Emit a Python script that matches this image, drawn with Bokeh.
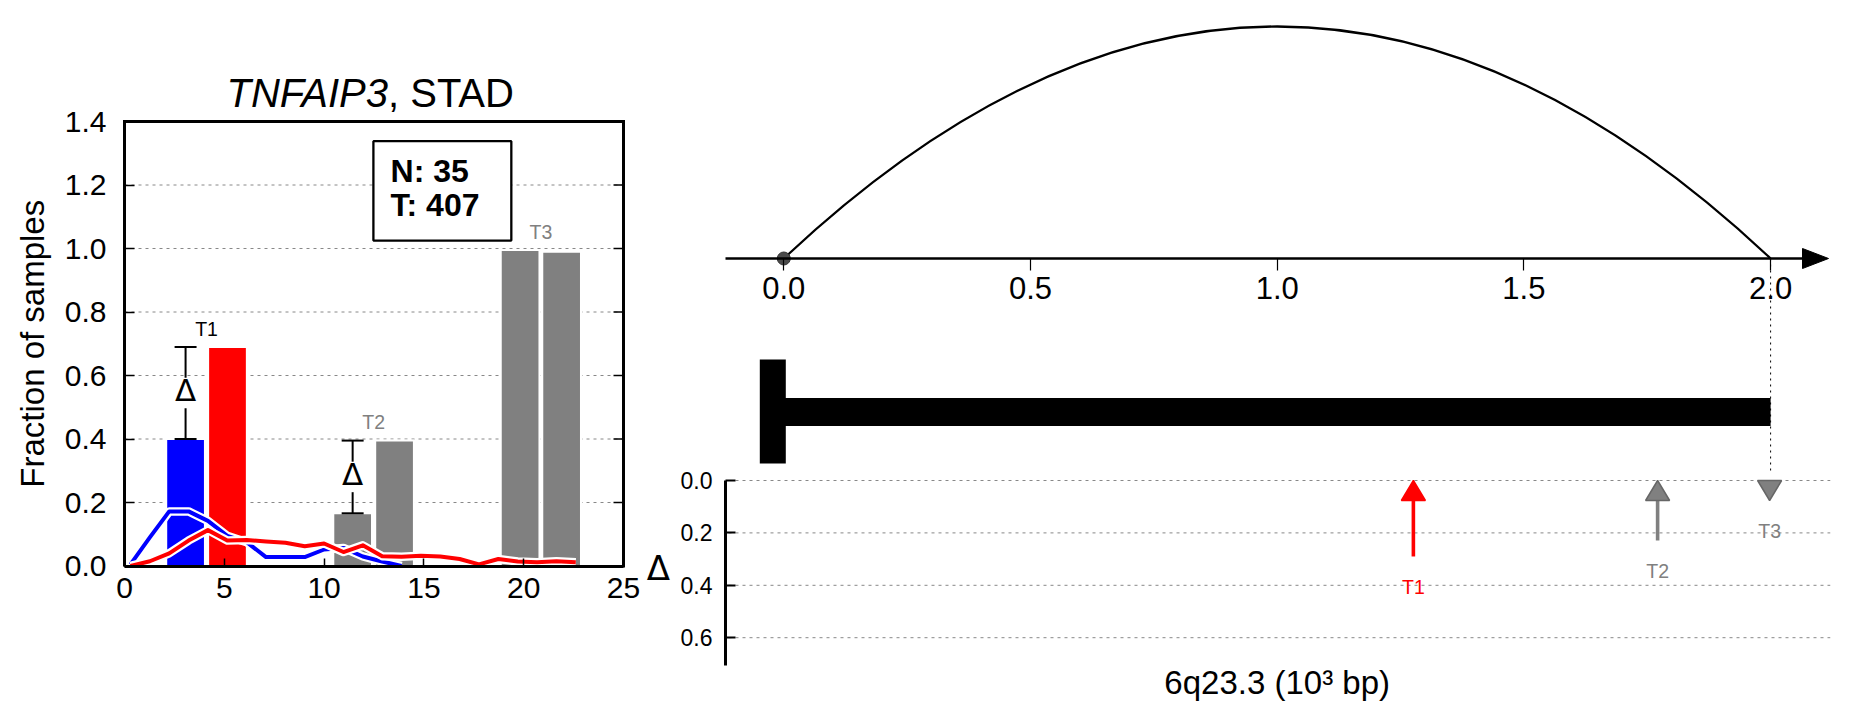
import math
from bokeh.plotting import figure
from bokeh.models import (Range1d, LinearAxis, FixedTicker, PrintfTickFormatter, ColumnDataSource)
from bokeh.layouts import row
from bokeh.embed import file_html
from bokeh.resources import INLINE
from bokeh.core.properties import value

# ---------------- data ----------------
gene = "TNFAIP3"
cancer = "STAD"
n_normal = 35
n_tumor = 407
targets = ["T1", "T2", "T3"]
normal_x = [3.06, 11.43, 19.82]
tumor_x = [5.16, 13.53, 21.90]
normal_frac = [0.40, 0.166, 0.995]
tumor_frac = [0.69, 0.395, 0.99]
normal_colors = ["#0000ff", "#808080", "#808080"]
tumor_colors = ["#ff0000", "#808080", "#808080"]
left_label_colors = ["black", "#808080", "#808080"]
show_delta = [True, True, False]

dens_x = [0.3, 1.27, 2.24, 3.21, 4.18, 5.15, 6.12, 7.09, 8.06, 9.03, 10.0, 10.97,
          11.94, 12.91, 13.88, 14.85, 15.82, 16.79, 17.76, 18.73, 19.7, 20.67, 21.64, 22.61]
dens_normal = [0.005, 0.09, 0.172, 0.172, 0.142, 0.095, 0.075, 0.028, 0.028, 0.028,
               0.052, 0.057, 0.03, 0.014, 0.0]
dens_tumor = [0.0, 0.015, 0.04, 0.08, 0.113, 0.08, 0.082, 0.077, 0.073, 0.062, 0.071,
              0.044, 0.065, 0.031, 0.029, 0.032, 0.030, 0.022, 0.005, 0.022, 0.014,
              0.012, 0.015, 0.012]

x_ticks_left = [0, 5, 10, 15, 20, 25]
y_ticks_left = [0.0, 0.2, 0.4, 0.6, 0.8, 1.0, 1.2, 1.4]
y_label_left = "Fraction of samples"

gene_start_kb = 0.0
gene_end_kb = 2.0
link_start = [0.0]
link_end = [2.0]
target_pos_kb = [1.276, 1.771, 1.998]
arrow_colors = ["#ff0000", "#808080", "#808080"]
kb_ticks = [0.0, 0.5, 1.0, 1.5, 2.0]
delta_ticks = [0.0, 0.2, 0.4, 0.6]
region_label = "6q23.3 (10\u00b3 bp)"

FONT = "Liberation Sans"
H = 716    # figure height (px)
LW = 642   # left figure width (px)

# ---------------- left panel ----------------
L_X0 = 124.0        # page x of x = 0
L_W = 499.0         # width of the data box
L_Y0 = 565.5        # page y of fraction 0
L_PX = 317.5        # px per unit fraction
xmin, xmax = x_ticks_left[0], x_ticks_left[-1]
ymin, ymax = y_ticks_left[0], y_ticks_left[-1]
px_x = L_W / (xmax - xmin)

p1 = figure(frame_width=LW, frame_height=H,
            x_range=Range1d(xmin - L_X0 / px_x, xmin + (LW - L_X0) / px_x),
            y_range=Range1d(-(H - L_Y0) / L_PX, L_Y0 / L_PX),
            x_axis_type=None, y_axis_type=None,
            min_border_left=0, min_border_right=0, min_border_top=0, min_border_bottom=0,
            output_backend="svg", toolbar_location=None)
p1.outline_line_color = None
p1.background_fill_color = "white"
p1.border_fill_color = "white"

# y axis (left spine)
ya = LinearAxis(ticker=FixedTicker(ticks=y_ticks_left), formatter=PrintfTickFormatter(format="%.1f"),
                bounds=(ymin, ymax), fixed_location=xmin)
ya.axis_line_width = 3
ya.major_tick_in = 10
ya.major_tick_out = 0
ya.major_tick_line_width = 1.5
ya.minor_tick_line_color = None
ya.major_label_text_font = FONT
ya.major_label_text_font_size = "30px"
ya.major_label_text_color = "black"
ya.major_label_standoff = 18
p1.add_layout(ya, "left")

# x axis (bottom spine)
xa = LinearAxis(ticker=FixedTicker(ticks=x_ticks_left), bounds=(xmin, xmax), fixed_location=ymin)
xa.axis_line_width = 3
xa.major_tick_in = 8
xa.major_tick_out = 0
xa.major_tick_line_width = 1.5
xa.minor_tick_line_color = None
xa.major_label_text_font = FONT
xa.major_label_text_font_size = "30px"
xa.major_label_text_color = "black"
xa.major_label_standoff = 12
p1.add_layout(xa, "below")

# y label
p1.text(x=[xmin - (L_X0 - 32) / px_x], y=[(ymin + ymax) / 2], text=[y_label_left],
        angle=math.pi / 2, text_font=value(FONT), text_font_size="33px", text_align="center",
        text_baseline="middle", text_color="black")

# horizontal grid lines inside the data box
inner = y_ticks_left[1:-1]
p1.segment(x0=[xmin] * len(inner), y0=inner, x1=[xmax] * len(inner), y1=inner,
           line_color="#888888", line_width=1, line_dash="3 4")

bar_src = ColumnDataSource(dict(x=normal_x + tumor_x, top=normal_frac + tumor_frac,
                                color=normal_colors + tumor_colors))
p1.vbar(x="x", top="top", bottom=0, width=1.94, fill_color="color", line_color="white",
        line_width=2, source=bar_src)

nx = dens_x[:len(dens_normal)]
p1.line(nx, dens_normal, line_color="white", line_width=8.5, line_join="round")
p1.line(nx, dens_normal, line_color="#0000ff", line_width=4, line_join="round")
p1.line(dens_x, dens_tumor, line_color="white", line_width=8.5, line_join="round")
p1.line(dens_x, dens_tumor, line_color="#ff0000", line_width=4, line_join="round")

# top and right spines + mirrored ticks on the right
p1.segment(x0=[xmin, xmax], y0=[ymax, ymin], x1=[xmax, xmax], y1=[ymax, ymax],
           line_color="black", line_width=3, line_cap="square")
p1.segment(x0=[xmax - 10 / px_x] * len(inner), y0=inner, x1=[xmax] * len(inner), y1=inner,
           line_color="black", line_width=1.5)

GAP = 0.048
CAP = 0.55
ex, lo0, lo1, hi0, hi1, dmid = [], [], [], [], [], []
for i in range(len(targets)):
    if show_delta[i]:
        lo, hi = normal_frac[i], tumor_frac[i]
        mid = (lo + hi) / 2
        ex.append(normal_x[i]); lo0.append(lo); lo1.append(mid - GAP)
        hi0.append(mid + GAP); hi1.append(hi); dmid.append(mid)
p1.segment(x0=ex, y0=lo0, x1=ex, y1=lo1, line_color="black", line_width=2)
p1.segment(x0=ex, y0=hi0, x1=ex, y1=hi1, line_color="black", line_width=2)
p1.segment(x0=[x - CAP for x in ex], y0=lo0, x1=[x + CAP for x in ex], y1=lo0,
           line_color="black", line_width=2)
p1.segment(x0=[x - CAP for x in ex], y0=hi1, x1=[x + CAP for x in ex], y1=hi1,
           line_color="black", line_width=2)
p1.text(x=ex, y=[m + 0.008 for m in dmid], text=["\u0394"] * len(ex), text_font=value("DejaVu Sans"),
        text_font_size="31px", text_align="center", text_baseline="middle", text_color="black")

lab_x = [(a + b) / 2 for a, b in zip(normal_x, tumor_x)]
lab_y = [max(a, b) + 0.057 for a, b in zip(normal_frac, tumor_frac)]
p1.text(x=lab_x, y=lab_y, text=targets, text_color=left_label_colors, text_font=value(FONT),
        text_font_size="19.5px", text_align="center", text_baseline="middle")

# N / T box
p1.quad(left=[12.47], right=[19.38], bottom=[1.025], top=[1.338], fill_color="white",
        line_color="black", line_width=2.3)
p1.text(x=[13.33, 13.33], y=[1.244, 1.136], text=[f"N: {n_normal}", f"T: {n_tumor}"],
        text_font=value(FONT), text_font_size="32px", text_font_style="bold",
        text_align="left", text_baseline="middle", text_color="black")

# title: italic gene name + normal cancer code
title_y = (L_Y0 - 92) / L_PX
p1.text(x=[13.2], y=[title_y], text=[gene], text_font=value(FONT), text_font_size="40px",
        text_font_style="italic", text_align="right", text_baseline="middle",
        text_color="black")
p1.text(x=[13.2], y=[title_y], text=[f", {cancer}"], text_font=value(FONT),
        text_font_size="40px", text_font_style="normal", text_align="left",
        text_baseline="middle", text_color="black")

# ---------------- right panel ----------------
PX_PER_KB = 493.4
KB0_X = 783.3       # page x of 0 kb
AX_Y = 258          # page y of kb axis
D0_Y = 480          # page y of delta = 0
PX_PER_D = 262.0
R_X0, R_X1 = LW, 1830
R_W = R_X1 - R_X0
x_left = (R_X0 - KB0_X) / PX_PER_KB
x_right = (R_X1 - KB0_X) / PX_PER_KB
d_axis_x = (725 - KB0_X) / PX_PER_KB

p2 = figure(frame_width=R_W, frame_height=H, x_range=Range1d(x_left, x_right),
            y_range=Range1d(AX_Y - H, AX_Y),
            x_axis_type=None, y_axis_type=None,
            min_border_left=0, min_border_right=1849 - R_X1, min_border_top=0,
            min_border_bottom=0, output_backend="svg", toolbar_location=None)
p2.outline_line_color = None
p2.background_fill_color = "white"
p2.border_fill_color = "white"
p2.extra_y_ranges = {"delta": Range1d(start=(H - D0_Y) / PX_PER_D, end=(0 - D0_Y) / PX_PER_D)}

# kb axis at y = 0
tip = x_right - 2 / PX_PER_KB
base = tip - 26 / PX_PER_KB
kb_axis = LinearAxis(ticker=FixedTicker(ticks=kb_ticks), formatter=PrintfTickFormatter(format="%.1f"),
                     fixed_location=0, bounds=(d_axis_x, base + 0.002))
kb_axis.axis_line_width = 2.5
kb_axis.major_tick_out = 12
kb_axis.major_tick_in = 0
kb_axis.major_tick_line_width = 1.2
kb_axis.minor_tick_line_color = None
kb_axis.major_label_text_font = FONT
kb_axis.major_label_text_font_size = "31px"
kb_axis.major_label_standoff = 6
kb_axis.major_label_text_color = "black"
p2.add_layout(kb_axis, "below")
p2.patch(x=[base, base, tip], y=[10, -10, 0], fill_color="black", line_color="black")

# delta axis
d_axis = LinearAxis(y_range_name="delta", ticker=FixedTicker(ticks=delta_ticks),
                    formatter=PrintfTickFormatter(format="%.1f"), bounds=(0, 0.706),
                    fixed_location=d_axis_x)
d_axis.axis_line_width = 3
d_axis.major_tick_in = 10
d_axis.major_tick_out = 0
d_axis.major_tick_line_width = 2
d_axis.minor_tick_line_color = None
d_axis.major_label_text_font = FONT
d_axis.major_label_text_font_size = "23px"
d_axis.major_label_standoff = 13
d_axis.major_label_text_color = "black"
p2.add_layout(d_axis, "left")

# delta grid lines (to the right of the delta axis)
p2.segment(x0=[d_axis_x + 3 / PX_PER_KB] * len(delta_ticks), y0=delta_ticks,
           x1=[x_right] * len(delta_ticks), y1=delta_ticks, line_color="#888888",
           line_width=1, line_dash="3 4", y_range_name="delta")

p2.text(x=[(658 - KB0_X) / PX_PER_KB], y=[(567.5 - D0_Y) / PX_PER_D], text=["\u0394"],
        text_font=value("DejaVu Sans"), text_font_size="34px", text_align="center",
        text_baseline="middle", text_color="black", y_range_name="delta")

# link arc
peak_px = AX_Y - 26
p2.quadratic(x0=link_start, y0=[0], x1=link_end, y1=[0],
             cx=[(a + b) / 2 for a, b in zip(link_start, link_end)], cy=[2 * peak_px],
             line_color="black", line_width=2.2)
p2.scatter(x=link_start, y=[0], size=13, fill_color="#4a4a4a", line_color="#333333")

# gene model
bar_c = AX_Y - 411.5
p2.quad(left=[gene_start_kb], right=[gene_end_kb], bottom=[bar_c - 14], top=[bar_c + 14],
        fill_color="black", line_color=None)
p2.quad(left=[gene_start_kb - 24 / PX_PER_KB], right=[gene_start_kb + 2 / PX_PER_KB],
        bottom=[AX_Y - 463], top=[AX_Y - 359], fill_color="black", line_color=None)
p2.segment(x0=[gene_end_kb], y0=[0], x1=[gene_end_kb], y1=[AX_Y - (D0_Y - 8)],
           line_color="black", line_width=1, line_dash="2 4")

# delta arrows
HEAD_LEN = 20 / PX_PER_D
HEAD_HW = 12 / PX_PER_KB
deltas = [t - n for t, n in zip(tumor_frac, normal_frac)]
sx, sy0, sy1, scol = [], [], [], []
hx, hy, hfill, hline = [], [], [], []
for pos, d, c in zip(target_pos_kb, deltas, arrow_colors):
    edge = c if c == "#ff0000" else "#666666"
    if d > 0:
        sx.append(pos); sy0.append(d); sy1.append(HEAD_LEN); scol.append(c)
        hx.append([pos - HEAD_HW, pos + HEAD_HW, pos]); hy.append([HEAD_LEN, HEAD_LEN, 0])
    else:
        hx.append([pos - HEAD_HW, pos + HEAD_HW, pos]); hy.append([0, 0, HEAD_LEN])
    hfill.append(c); hline.append(edge)
p2.segment(x0=sx, y0=sy0, x1=sx, y1=sy1, line_color=scol, line_width=3.6, y_range_name="delta")
p2.patches(xs=hx, ys=hy, fill_color=hfill, line_color=hline, line_width=1.5, y_range_name="delta")
p2.text(x=target_pos_kb, y=[max(abs(d), HEAD_LEN) + 0.115 for d in deltas], text=targets,
        text_color=arrow_colors, text_font=value(FONT), text_font_size="19.5px",
        text_align="center", text_baseline="middle", y_range_name="delta")

p2.text(x=[(gene_start_kb + gene_end_kb) / 2], y=[(682 - D0_Y) / PX_PER_D], text=[region_label],
        text_font=value(FONT), text_font_size="33px", text_align="center",
        text_baseline="middle", text_color="black", y_range_name="delta")

layout = row(p1, p2)
open("out.html", "w").write(file_html(layout, INLINE))
